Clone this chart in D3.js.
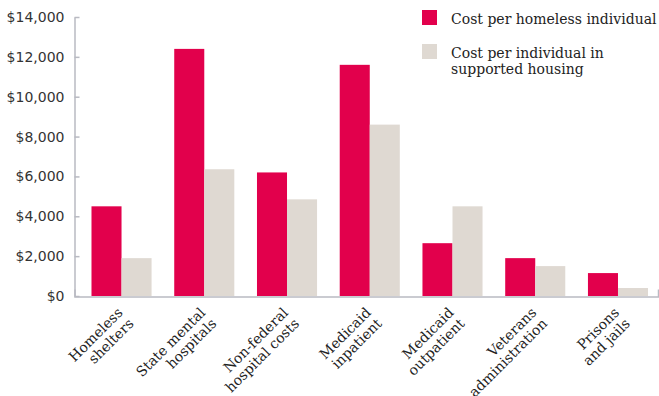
<!DOCTYPE html>
<html>
<head>
<meta charset="utf-8">
<script src="https://cdn.jsdelivr.net/npm/d3@7"></script>
<style>
  body { margin: 0; background: #fff; }
  .tick text { fill: #333; }
</style>
</head>
<body>
<div id="chart"></div>
<script>
// categories, each split over two lines
const categories = [
    ["Homeless", "shelters"],
    ["State mental", "hospitals"],
    ["Non-federal", "hospital costs"],
    ["Medicaid", "inpatient"],
    ["Medicaid", "outpatient"],
    ["Veterans", "administration"],
    ["Prisons", "and jails"]
];
const seriesNames = ["Cost per homeless individual", "Cost per individual in supported housing"];
const homelessCost = [4500, 12400, 6200, 11600, 2650, 1900, 1150];
const housingCost = [1900, 6360, 4850, 8600, 4500, 1500, 400];
const yTicks = [0, 2000, 4000, 6000, 8000, 10000, 12000, 14000];

const colors = ["#e2004c", "#dfd9d2"];
const width = 659, height = 396;

const svg = d3.select("#chart")
    .append("svg")
    .attr("width", width)
    .attr("height", height);

const keys = categories.map(c => c.join(" "));
const data = keys.map((k, i) => ({key: k, values: [homelessCost[i], housingCost[i]]}));

// scales
const x0 = d3.scaleBand()
    .domain(keys)
    .range([74.5, 658])
    .paddingInner(0.274)
    .paddingOuter(0.163)
    .align(0.63);

const x1 = d3.scaleBand()
    .domain([0, 1])
    .range([0, x0.bandwidth()]);

const y = d3.scaleLinear()
    .domain([0, 14000])
    .range([296, 17]);

// bars
svg.append("g")
    .selectAll("g")
    .data(data)
    .join("g")
    .attr("transform", d => `translate(${x0(d.key)},0)`)
    .selectAll("rect")
    .data(d => d.values)
    .join("rect")
    .attr("x", (d, i) => x1(i))
    .attr("y", d => y(d))
    .attr("width", x1.bandwidth())
    .attr("height", d => y(0) - y(d))
    .attr("fill", (d, i) => colors[i]);

// y axis
const yAxis = svg.append("g")
    .attr("transform", "translate(74.5,0)")
    .call(d3.axisLeft(y)
        .tickValues(yTicks)
        .tickFormat(d3.format("$,"))
        .tickSizeInner(-5)
        .tickSizeOuter(0)
        .tickPadding(10));
yAxis.selectAll("text")
    .style("font-family", "DejaVu Sans")
    .style("font-size", "14px");

// x axis
const xAxis = svg.append("g")
    .attr("transform", "translate(0,296.5)")
    .call(d3.axisBottom(x0).tickSizeInner(0).tickSizeOuter(-7));
xAxis.selectAll(".tick text").remove();
xAxis.selectAll(".tick")
    .append("text")
    .attr("text-anchor", "end")
    .attr("transform", "translate(2,17) rotate(-45)")
    .style("font-family", "DejaVu Serif")
    .style("font-size", "14px")
    .style("fill", "#222")
    .selectAll("tspan")
    .data((d, i) => categories[i])
    .join("tspan")
    .attr("x", 0)
    .attr("y", (d, i) => i * 15.5)
    .text(d => d);

svg.selectAll(".domain, .tick line")
    .attr("stroke", "#b9bac2")
    .attr("stroke-width", 1.5);

// legend
const legendLines = [["Cost per homeless individual"], ["Cost per individual in", "supported housing"]];
const legend = svg.append("g")
    .selectAll("g")
    .data(seriesNames)
    .join("g")
    .attr("transform", (d, i) => `translate(422,${10 + i * 34})`);
legend.append("rect")
    .attr("width", 15)
    .attr("height", 15)
    .attr("fill", (d, i) => colors[i]);
legend.append("text")
    .style("font-family", "DejaVu Serif")
    .style("font-size", "14px")
    .style("fill", "#222")
    .selectAll("tspan")
    .data((d, i) => legendLines[i])
    .join("tspan")
    .attr("x", 29)
    .attr("y", (d, i) => 14 + i * 16)
    .text(d => d);
</script>
</body>
</html>
